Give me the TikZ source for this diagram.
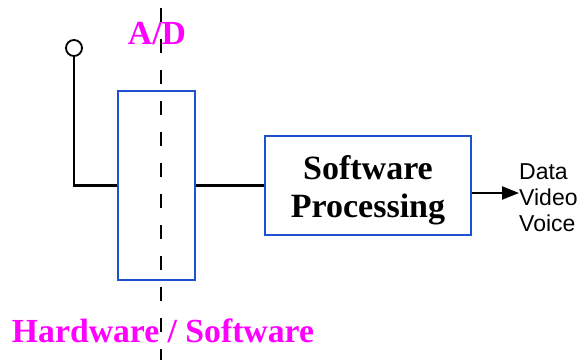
\documentclass[tikz,border=0pt]{standalone}
\usepackage{fontspec}
\setmainfont{Liberation Serif}
\newfontfamily\labelfont{Liberation Sans}
\usetikzlibrary{arrows.meta}
\definecolor{boxblue}{RGB}{30,80,210}
\definecolor{mag}{RGB}{255,0,255}
\begin{document}
\begin{tikzpicture}[x=1pt,y=-1pt,
  wire/.style={line width=2.2pt,black},
  bluebox/.style={draw=boxblue,line width=2.2pt,rectangle,inner sep=0pt},
  bigtitle/.style={text=mag,font=\fontsize{33.7}{37}\selectfont\bfseries,inner sep=0pt},
]
\useasboundingbox (0,0) rectangle (584,360);
% antenna
\node[draw,circle,line width=1.8pt,minimum size=16pt,inner sep=0pt] (ant) at (74,48) {};
% A/D box
\node[bluebox,minimum width=77pt,minimum height=189pt] (ad) at (156.5,185.5) {};
% software box
\node[bluebox,minimum width=206pt,minimum height=99pt,inner sep=0pt] (sp) at (368,185.5) {};
\node[align=center,inner sep=0pt,font=\fontsize{34}{38}\selectfont\bfseries] (spt) at (368,190) {Software\\Processing};
% labels
\node[bigtitle,anchor=base] (adl) at (157,44) {A/D};
\node[bigtitle,anchor=base] (hs) at (163,342) {Hardware / Software};
\node[anchor=west,align=left,inner sep=0pt,
      font=\labelfont\fontsize{23}{26}\selectfont] (out) at (519,198) {Data\\Video\\Voice};
% connectors
\draw[wire] (ant.south) |- (ad.west);
\draw[wire] (ad.east) -- (sp.west);
\coordinate (tip) at (519,193);
\draw[wire,-{Triangle[length=17pt,width=13pt]}] (sp.east |- tip) -- (tip);
% dashed divider
\coordinate (dtop) at (161,8);
\coordinate (dbot) at (161,360);
\draw[line width=2.2pt,dash pattern=on 14pt off 17pt] (dtop) -- (dbot);
\end{tikzpicture}
\end{document}
